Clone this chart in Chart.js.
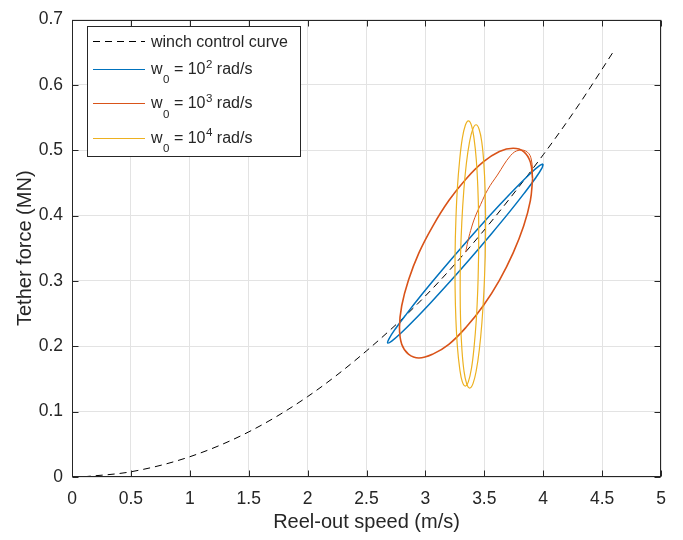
<!DOCTYPE html>
<html>
<head>
<meta charset="utf-8">
<script src="https://cdn.jsdelivr.net/npm/chart.js@4.4.1/dist/chart.umd.min.js"></script>
<style>
body { margin: 0; background: #fff; }
</style>
</head>
<body>
<canvas id="myChart" width="683" height="540"></canvas>
<script>
// Axis ticks
var xTicks = [0, 0.5, 1, 1.5, 2, 2.5, 3, 3.5, 4, 4.5, 5];
var xTickLabels = ["0", "0.5", "1", "1.5", "2", "2.5", "3", "3.5", "4", "4.5", "5"];
var yTicks = [0, 0.1, 0.2, 0.3, 0.4, 0.5, 0.6, 0.7];
var yTickLabels = ["0", "0.1", "0.2", "0.3", "0.4", "0.5", "0.6", "0.7"];

// Winch control curve
var winchSpeed = [0.1, 0.5, 1.0, 1.5, 2.0, 2.5, 3.0, 3.5, 4.0, 4.3, 4.6];
var winchForce = [0.0003, 0.008, 0.031, 0.069, 0.123, 0.193, 0.277, 0.378, 0.493, 0.569, 0.652];

// w0 = 10^2 rad/s loop
var speed2 = [4.000, 3.989, 3.934, 3.838, 3.709, 3.554, 3.385, 3.213, 3.049, 2.905, 2.791, 2.714, 2.680,
              2.691, 2.746, 2.842, 2.971, 3.126, 3.295, 3.467, 3.631, 3.775, 3.889, 3.966, 4.000];
var force2 = [0.479, 0.4725, 0.4571, 0.434, 0.4045, 0.3708, 0.3351, 0.2998, 0.2675, 0.2402, 0.2199, 0.2079, 0.205,
              0.2115, 0.2269, 0.25, 0.2795, 0.3132, 0.3489, 0.3842, 0.4165, 0.4438, 0.4641, 0.4761, 0.479];

// w0 = 10^3 rad/s loop + the start-up arc
var speed3 = [3.910, 3.891, 3.834, 3.745, 3.628, 3.491, 3.345, 3.199, 3.063, 2.945, 2.856, 2.799, 2.780,
              2.799, 2.856, 2.945, 3.063, 3.199, 3.345, 3.491, 3.628, 3.745, 3.834, 3.891, 3.910];
var force3 = [0.456, 0.482, 0.498, 0.503, 0.498, 0.482, 0.456, 0.423, 0.384, 0.343, 0.301, 0.262, 0.229,
              0.203, 0.188, 0.182, 0.188, 0.203, 0.229, 0.262, 0.301, 0.343, 0.384, 0.423, 0.456];
var speed3Start = [3.342, 3.36, 3.384, 3.42, 3.469, 3.53, 3.611, 3.724, 3.795, 3.866, 3.90, 3.91];
var force3Start = [0.344, 0.36, 0.377, 0.397, 0.417, 0.44, 0.462, 0.492, 0.5, 0.497, 0.485, 0.46];

// w0 = 10^4 rad/s, two loops
var speed4a = [3.452, 3.452, 3.445, 3.432, 3.413, 3.391, 3.365, 3.339, 3.313, 3.291, 3.272, 3.259, 3.252,
               3.252, 3.259, 3.272, 3.291, 3.313, 3.339, 3.365, 3.391, 3.413, 3.432, 3.445, 3.452];
var force4a = [0.342, 0.3945, 0.4435, 0.4855, 0.5178, 0.5381, 0.545, 0.5381, 0.5178, 0.4855, 0.4435, 0.3945, 0.342,
               0.2895, 0.2405, 0.1985, 0.1662, 0.1459, 0.139, 0.1459, 0.1662, 0.1985, 0.2405, 0.2895, 0.342];
var speed4b = [3.508, 3.511, 3.507, 3.496, 3.479, 3.456, 3.430, 3.402, 3.374, 3.348, 3.326, 3.309, 3.298,
               3.295, 3.299, 3.310, 3.327, 3.350, 3.376, 3.404, 3.432, 3.458, 3.480, 3.497, 3.508];
var force4b = [0.3375, 0.3896, 0.4383, 0.48, 0.512, 0.5321, 0.539, 0.5321, 0.512, 0.48, 0.4383, 0.3896, 0.3375,
               0.2854, 0.2367, 0.195, 0.163, 0.1429, 0.136, 0.1429, 0.163, 0.195, 0.2367, 0.2854, 0.3375];

// Legend text
var curveName = "winch control curve";
var omegaExponents = ["2", "3", "4"];

var blue = "#0072BD";
var red = "#D95319";
var yellow = "#EDB120";
var textColor = "#262626";

function toPoints(xs, ys) {
    var pts = [];
    for (var i = 0; i < xs.length; i++) {
        pts.push({ x: xs[i], y: ys[i] });
    }
    return pts;
}

function lineSet(xs, ys, color, width, order) {
    return {
        data: toPoints(xs, ys),
        showLine: true,
        borderColor: color,
        backgroundColor: color,
        borderWidth: width,
        pointRadius: 0,
        tension: 0.4,
        order: order
    };
}

var winchSet = lineSet(winchSpeed, winchForce, "#000000", 1, 4);
winchSet.borderDash = [7, 5];
winchSet.cubicInterpolationMode = "monotone";

// Box, inward ticks (MATLAB style)
var axesFrame = {
    id: "axesFrame",
    afterDatasetsDraw: function(chart) {
        var ctx = chart.ctx;
        var a = chart.chartArea;
        var xs = chart.scales.x;
        var ys = chart.scales.y;
        var l = Math.round(a.left) + 0.5, r = Math.round(a.right) - 0.5;
        var t = Math.round(a.top) + 0.5, b = Math.round(a.bottom) - 0.5;
        ctx.save();
        ctx.strokeStyle = textColor;
        ctx.lineWidth = 1;
        ctx.strokeRect(l, t, r - l, b - t);
        ctx.beginPath();
        xTicks.forEach(function(v) {
            var px = Math.round(xs.getPixelForValue(v)) + 0.5;
            ctx.moveTo(px, b); ctx.lineTo(px, b - 6);
            ctx.moveTo(px, t); ctx.lineTo(px, t + 6);
        });
        yTicks.forEach(function(v) {
            var py = Math.round(ys.getPixelForValue(v)) + 0.5;
            ctx.moveTo(l, py); ctx.lineTo(l + 6, py);
            ctx.moveTo(r, py); ctx.lineTo(r - 6, py);
        });
        ctx.stroke();
        ctx.restore();
    }
};

// Legend with sub/superscripts
var matLegend = {
    id: "matLegend",
    afterDraw: function(chart) {
        var ctx = chart.ctx;
        ctx.save();
        ctx.fillStyle = "#ffffff";
        ctx.fillRect(87.5, 26.5, 213, 130);
        ctx.strokeStyle = textColor;
        ctx.lineWidth = 1;
        ctx.strokeRect(87.5, 26.5, 213, 130);

        var big = "16px 'Liberation Sans', Arial, sans-serif";
        var small = "11.5px 'Liberation Sans', Arial, sans-serif";
        ctx.fillStyle = textColor;
        ctx.textBaseline = "alphabetic";
        ctx.textAlign = "left";

        // winch row
        ctx.strokeStyle = "#000000";
        ctx.setLineDash([7, 5]);
        ctx.beginPath();
        ctx.moveTo(93, 41.5); ctx.lineTo(145, 41.5);
        ctx.stroke();
        ctx.setLineDash([]);
        ctx.font = big;
        ctx.fillText(curveName, 151, 46.7);

        var colors = [blue, red, yellow];
        var baselines = [74, 108.3, 142.7];
        for (var i = 0; i < omegaExponents.length; i++) {
            var base = baselines[i];
            ctx.strokeStyle = colors[i];
            ctx.lineWidth = 1;
            ctx.beginPath();
            ctx.moveTo(93, Math.round(base - 5) + 0.5); ctx.lineTo(145, Math.round(base - 5) + 0.5);
            ctx.stroke();
            var x = 151;
            ctx.font = big;
            ctx.fillText("w", x, base); x += ctx.measureText("w").width + 0.5;
            ctx.font = small;
            ctx.fillText("0", x, base + 9.3); x += ctx.measureText("0").width;
            ctx.font = big;
            ctx.fillText(" = 10", x, base); x += ctx.measureText(" = 10").width + 0.5;
            ctx.font = small;
            ctx.fillText(omegaExponents[i], x, base - 6.3); x += ctx.measureText(omegaExponents[i]).width;
            ctx.font = big;
            ctx.fillText(" rad/s", x, base);
        }
        ctx.restore();
    }
};

var ctx = document.getElementById("myChart");
var myChart = new Chart(ctx, {
    type: "scatter",
    data: {
        datasets: [
            winchSet,
            lineSet(speed2, force2, blue, 1.5, 3),
            lineSet(speed3, force3, red, 1.6, 2),
            lineSet(speed3Start, force3Start, red, 1, 2),
            lineSet(speed4a, force4a, yellow, 1.2, 1),
            lineSet(speed4b, force4b, yellow, 1.2, 1)
        ]
    },
    options: {
        responsive: false,
        animation: false,
        devicePixelRatio: 1,
        layout: { padding: { top: 12, right: 22, bottom: 0, left: 0 } },
        plugins: {
            legend: { display: false },
            tooltip: { enabled: false }
        },
        scales: {
            x: {
                type: "linear",
                min: 0,
                max: 5,
                afterFit: function(scale) { scale.height = 63; },
                afterBuildTicks: function(scale) {
                    scale.ticks = xTicks.map(function(v) { return { value: v }; });
                },
                ticks: {
                    padding: 12,
                    maxRotation: 0,
                    color: textColor,
                    font: { family: "'Liberation Sans', Arial, sans-serif", size: 17.5 },
                    callback: function(value, index) { return xTickLabels[index]; }
                },
                grid: { color: "#e3e3e3", lineWidth: 1, drawTicks: false },
                border: { display: false },
                title: {
                    display: true,
                    text: "Reel-out speed (m/s)",
                    color: textColor,
                    font: { family: "'Liberation Sans', Arial, sans-serif", size: 20 },
                    padding: { top: 0, bottom: 5.5 }
                }
            },
            y: {
                type: "linear",
                min: 0,
                max: 0.7,
                afterFit: function(scale) { scale.width = 72; },
                afterBuildTicks: function(scale) {
                    scale.ticks = yTicks.map(function(v) { return { value: v }; });
                },
                ticks: {
                    padding: 9,
                    color: textColor,
                    font: { family: "'Liberation Sans', Arial, sans-serif", size: 17.5 },
                    callback: function(value, index) { return yTickLabels[index]; }
                },
                grid: { color: "#e3e3e3", lineWidth: 1, drawTicks: false },
                border: { display: false },
                title: {
                    display: true,
                    text: "Tether force (MN)",
                    color: textColor,
                    font: { family: "'Liberation Sans', Arial, sans-serif", size: 20 },
                    padding: { top: 13.5, bottom: 0 }
                }
            }
        }
    },
    plugins: [axesFrame, matLegend]
});
</script>
</body>
</html>
